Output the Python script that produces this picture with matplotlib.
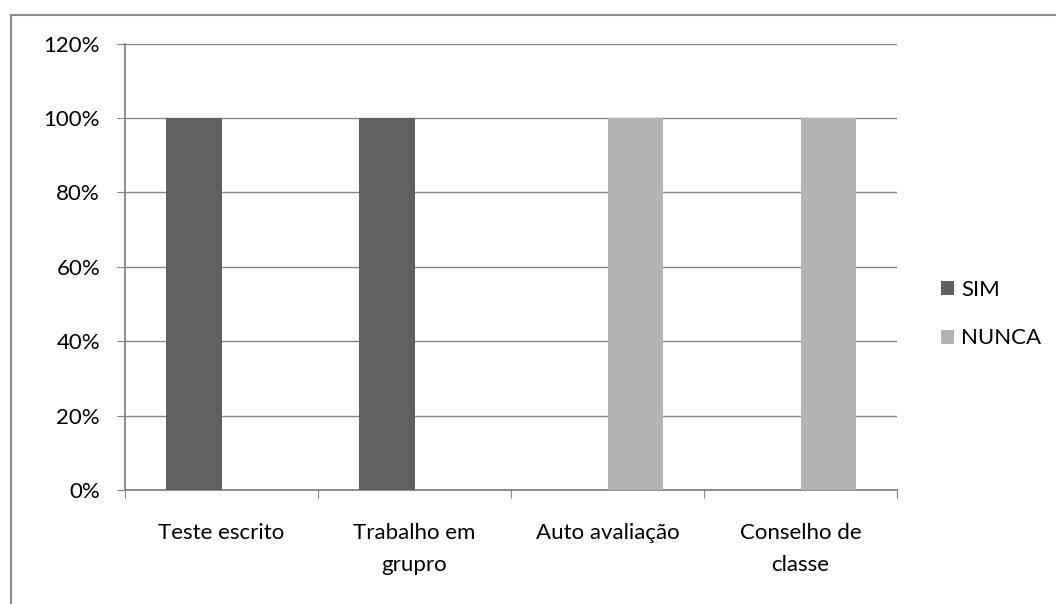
import numpy as np
import matplotlib.pyplot as plt
from matplotlib.lines import Line2D

# categories and the share of answers per series
categories = ["Teste escrito", "Trabalho em\ngrupro", "Auto avaliação", "Conselho de\nclasse"]
sim = [1.0, 1.0, 0.0, 0.0]
nunca = [0.0, 0.0, 1.0, 1.0]
y_ticks = [0, 0.2, 0.4, 0.6, 0.8, 1.0, 1.2]

plt.rcParams['font.family'] = ['Lato', 'DejaVu Sans']
fs = 16

fig = plt.figure(figsize=(10.56, 6.04), dpi=100)
W, H = 1056, 604
ax = fig.add_axes([125 / W, 1 - 490 / H, (897 - 125) / W, (490 - 43.6) / H])

x = np.arange(len(categories))
w = 1 / 3.5
ax.bar(x - w / 2, sim, w, color='#606060', label='SIM', zorder=3)
ax.bar(x + w / 2, nunca, w, color='#b3b3b3', label='NUNCA', zorder=3)

ax.set_xlim(-0.5, len(categories) - 0.5)
ax.set_ylim(0, 1.2)
ax.set_yticks(y_ticks)
ax.set_yticklabels([f"{int(round(v * 100))}%" for v in y_ticks], fontsize=fs)
ax.yaxis.grid(True, color='#868686', linewidth=1, zorder=0)

# category ticks sit on the boundaries between groups
ax.set_xticks(np.arange(-0.5, len(categories), 1))
ax.set_xticklabels([])
ax.set_xticks(x, minor=True)
ax.set_xticklabels(categories, minor=True, fontsize=fs, linespacing=1.75)
ax.tick_params(axis='x', which='minor', length=0, pad=24)
ax.tick_params(axis='x', which='major', length=6, direction='out', color='#868686')
ax.tick_params(axis='y', length=6, direction='out', color='#868686', pad=12)

for side in ['top', 'right']:
    ax.spines[side].set_visible(False)
for side in ['left', 'bottom']:
    ax.spines[side].set_color('#868686')
    ax.spines[side].set_linewidth(1.3)

ax.legend(loc='center left', bbox_to_anchor=(921 / W, 1 - 314 / H),
          bbox_transform=fig.transFigure, frameon=False, fontsize=fs,
          handlelength=0.6, handleheight=0.6, handletextpad=0.3, labelspacing=1.3)

# chart border, cut off on the right and bottom
fig.add_artist(Line2D([11 / W, 1], [1 - 15 / H, 1 - 15 / H], color='#8c8c8c', linewidth=1.5))
fig.add_artist(Line2D([11 / W, 11 / W], [0, 1 - 15 / H], color='#8c8c8c', linewidth=1.5))

fig.savefig('out.png', dpi=100)
